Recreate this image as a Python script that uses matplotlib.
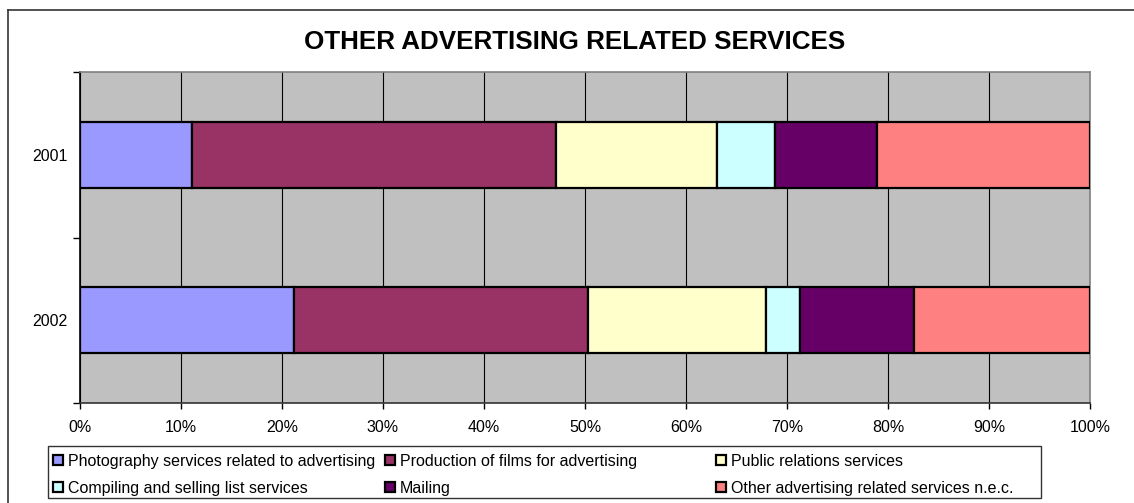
import matplotlib
matplotlib.use("Agg")
import matplotlib.pyplot as plt
from matplotlib.patches import Rectangle
from matplotlib.lines import Line2D
import numpy as np

plt.rcParams['font.family'] = ['Liberation Sans', 'DejaVu Sans']

# ---------------- data ----------------
title = "OTHER ADVERTISING RELATED SERVICES"
years = ["2001", "2002"]
series_names = [
    "Photography services related to advertising",
    "Production of films for advertising",
    "Public relations services",
    "Compiling and selling list services",
    "Mailing",
    "Other advertising related services n.e.c.",
]
series_colors = ["#9999FF", "#993366", "#FFFFCC", "#CCFFFF", "#660066", "#FF8080"]
# percentage shares per series: [2001, 2002]
photography = [11.1, 21.2]
films = [36.0, 29.1]
public_rel = [16.0, 17.6]
lists = [5.7, 3.4]
mailing = [10.1, 11.3]
other = [21.1, 17.4]
series_values = [photography, films, public_rel, lists, mailing, other]
x_ticks = [0, 10, 20, 30, 40, 50, 60, 70, 80, 90, 100]
x_tick_labels = [f"{t}%" for t in x_ticks]

# ---------------- figure ----------------
W, H = 1134, 503
fig = plt.figure(figsize=(W / 100, H / 100), dpi=100)

def fx(px):
    return px / W

def fy(py):
    return 1 - py / H

# outer chart frame (top and left edges visible)
fig.add_artist(Line2D([fx(8), fx(1134)], [fy(10), fy(10)], color="#333333", lw=1.2))
fig.add_artist(Line2D([fx(8), fx(8)], [fy(10), fy(503)], color="#333333", lw=1.2))

left, right, top, bottom = 80, 1090, 72, 403
ax = fig.add_axes([fx(left), fy(bottom), fx(right - left), (bottom - top) / H])
ax.set_facecolor("#C0C0C0")

ypos = np.arange(len(years))
cum = np.zeros(len(years))
for name, vals, col in zip(series_names, series_values, series_colors):
    vals = np.asarray(vals, dtype=float)
    ax.barh(ypos, vals, left=cum, height=0.4, color=col, edgecolor="black",
            linewidth=1.6, zorder=3, label=name)
    cum += vals

ax.set_xlim(0, 100)
ax.set_ylim(len(years) - 0.5, -0.5)
ax.set_xticks(x_ticks)
ax.set_xticklabels(x_tick_labels, fontsize=11.5)
ax.tick_params(axis="x", direction="out", length=4, width=1, pad=8, colors="black")
ax.set_yticks(ypos)
ax.set_yticklabels(years, fontsize=11.5)
ax.tick_params(axis="y", which="major", length=0, pad=9)
ax.set_yticks(np.arange(-0.5, len(years), 1.0), minor=True)
ax.tick_params(axis="y", which="minor", direction="out", length=5, width=1, color="black")

ax.grid(axis="x", color="black", linewidth=0.8, zorder=1)
ax.set_axisbelow(True)

ax.spines["left"].set_color("black")
ax.spines["left"].set_linewidth(1.2)
ax.spines["bottom"].set_color("#333333")
ax.spines["bottom"].set_linewidth(1.2)
ax.spines["top"].set_color("#808080")
ax.spines["top"].set_linewidth(1.2)
ax.spines["right"].set_color("#808080")
ax.spines["right"].set_linewidth(1.2)

# title
fig.text(fx(575), fy(42), title, ha="center", va="center",
         fontsize=18.7, fontweight="bold")

# legend (manual, Excel-style fixed columns)
leg_l, leg_t, leg_r, leg_b = 48, 446, 1041, 498
fig.add_artist(Rectangle((fx(leg_l), fy(leg_b)), fx(leg_r - leg_l), (leg_b - leg_t) / H,
                         fill=False, edgecolor="#333333", lw=1.0))
col_x = [53, 385, 716]
row_y = [460, 487]
sq = 10
for i, (name, col) in enumerate(zip(series_names, series_colors)):
    r, c = divmod(i, 3)
    x0 = col_x[c]
    y0 = row_y[r]
    fig.add_artist(Rectangle((fx(x0), fy(y0 + sq / 2)), fx(sq), sq / H,
                             facecolor=col, edgecolor="black", lw=1.6))
    fig.text(fx(x0 + sq + 5), fy(y0), name, ha="left", va="center_baseline",
             fontsize=11.5)

fig.savefig("out.png", dpi=100)
